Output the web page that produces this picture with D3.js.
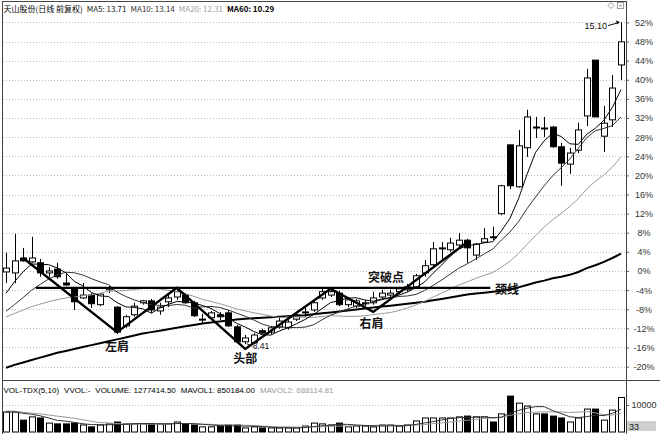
<!DOCTYPE html>
<html><head><meta charset="utf-8">
<script src="https://cdn.jsdelivr.net/npm/d3@7"></script>
<style>body{margin:0;background:#fff}svg{display:block}</style>
</head><body>
<svg id="c" width="660" height="434"></svg>
<script>
// ---------- DATA ----------
const days = d3.range(1, 74);
const open = [9.91,9.89,10.20,10.12,10.10,9.89,9.97,9.68,9.58,9.37,
  9.43,9.23,9.54,9.18,8.79,9.02,9.27,9.31,9.10,9.29,
  9.39,9.43,9.27,8.91,8.96,9.02,9.06,8.77,8.46,8.44,
  8.69,8.66,8.77,8.75,8.93,9.06,9.12,9.37,9.43,9.47,
  9.23,9.20,9.25,9.27,9.39,9.43,9.50,9.54,9.60,9.89,
  10.06,10.39,10.37,10.47,10.57,10.26,10.53,10.64,11.12,12.55,
  11.68,12.49,12.90,12.90,12.92,12.51,12.15,12.44,13.15,14.31,
  12.73,13.07,14.21];
const high = [10.31,10.70,10.41,10.64,10.18,10.01,10.10,9.89,9.60,9.68,
  9.47,9.47,9.64,9.20,9.02,9.27,9.33,9.35,9.27,9.43,
  9.60,9.47,9.31,9.04,9.10,9.08,9.12,8.81,8.60,8.64,
  8.73,8.79,8.96,8.91,9.08,9.16,9.33,9.56,9.58,9.52,
  9.37,9.35,9.33,9.50,9.54,9.54,9.60,9.66,9.87,10.16,
  10.53,10.53,10.62,10.72,10.60,10.51,10.82,10.85,11.72,12.55,
  12.86,13.28,13.13,13.13,12.94,12.59,12.49,13.01,14.13,14.31,
  13.36,14.00,15.10];
const low = [9.68,9.68,10.12,10.10,9.81,9.81,9.77,9.62,9.12,9.35,
  9.16,9.20,9.47,8.62,8.75,8.98,9.23,9.06,9.02,9.18,
  9.33,9.25,8.98,8.83,8.91,8.91,8.77,8.43,8.41,8.42,
  8.62,8.62,8.73,8.71,8.89,8.98,9.08,9.33,9.39,9.20,
  9.18,9.16,9.20,9.23,9.35,9.39,9.45,9.50,9.56,9.81,
  10.01,10.16,10.33,10.43,10.10,10.16,10.51,10.57,11.09,11.63,
  11.66,12.30,12.69,12.71,12.49,11.70,11.95,12.38,12.94,13.13,
  12.40,12.92,13.90];
const close = [9.99,10.14,10.14,10.20,9.89,9.93,9.81,9.64,9.29,9.43,
  9.25,9.45,9.58,8.66,8.98,9.20,9.31,9.12,9.18,9.37,
  9.50,9.27,9.00,8.93,9.06,8.98,8.79,8.46,8.54,8.60,
  8.64,8.75,8.89,8.87,9.02,9.08,9.27,9.50,9.50,9.23,
  9.33,9.31,9.27,9.37,9.47,9.47,9.56,9.60,9.83,10.04,
  10.39,10.41,10.51,10.57,10.41,10.49,10.60,10.62,11.70,11.70,
  12.53,13.13,12.92,12.88,12.51,12.17,12.38,12.86,13.94,13.13,
  13.00,13.73,14.69];
// volume in lots (100 shares)
const volume = [7400,7400,4400,5600,5200,3300,3000,3000,3300,2600,
  1900,2600,3000,3700,3000,3000,3000,3000,3000,3000,
  3700,3000,2600,1900,1900,2200,2600,2600,1500,1900,
  1500,1500,1500,1500,1500,2200,3300,3000,2600,3300,
  1900,2200,2200,1900,2600,2600,2200,2600,4100,5200,
  5200,5200,5200,5600,5900,5600,5600,3700,6700,13300,
  10700,9600,6700,6700,5900,5200,3700,5200,8500,8500,
  4400,8100,12774];
// closes / volumes just before the visible window (estimated from where the MA lines start)
const priorCloses = [8.70,8.75,8.80,8.85,8.90,8.95,8.95,8.90,8.90,8.90,
  8.75,8.70,8.65,8.70,8.80,8.95,9.10,9.40,9.90];
const priorVolumes = [8000,8500,9000,8000,7500,7000,7000,7500,8000];
// MA60
const ma60 = [7.92,7.98,8.03,8.08,8.13,8.18,8.23,8.27,8.31,8.35,
  8.39,8.43,8.47,8.51,8.55,8.59,8.63,8.66,8.69,8.72,
  8.75,8.78,8.81,8.84,8.86,8.88,8.90,8.92,8.94,8.95,
  8.96,8.97,8.98,8.99,9.00,9.01,9.03,9.05,9.07,9.09,
  9.11,9.13,9.15,9.17,9.19,9.21,9.23,9.25,9.27,9.29,
  9.32,9.35,9.38,9.41,9.44,9.46,9.48,9.50,9.52,9.55,
  9.59,9.64,9.69,9.73,9.78,9.81,9.85,9.91,9.99,10.05,
  10.12,10.20,10.29];
const basePrice = 9.93;
const pctTicks = [52,48,44,40,36,32,28,24,20,16,12,8,4,0,-4,-8,-12,-16,-20];
const volTicks = [10000];
// pattern annotation: zigzag vertices [day, price], neckline
const zigzag = [[3,10.20],[14,8.66],[21,9.58],[29,8.31],[39,9.56],[44,9.08],[55,10.53]];
const neckPrice = 9.58, neckFrom = 4.5, neckTo = 57.7;
const notes = [["左肩",14,8.39],["头部",29,8.13],["右肩",43.8,8.87],["突破点",45.5,9.81],["颈线",59.65,9.56]];
// [text, colour, weight]
const headerParts = [["天山股份(日线 前复权)","#000",400],["MA5: 13.71","#222",400],["MA10: 13.14","#333",400],["MA20: 12.31","#a0a0a0",400],["MA60: 10.29","#000",700]];
const volHeader = [["VOL-TDX(5,10)","#000"],["VVOL:-","#000"],["VOLUME: 1277414.50","#000"],["MAVOL1: 850184.00","#000"],["MAVOL2: 688114.81","#999"]];

// ---------- SCALES ----------
const svg = d3.select('#c');
const n = days.length;
const x = d3.scaleLinear().domain([1,73]).range([6,621]);
const y = d3.scaleLinear().domain([basePrice*0.8, basePrice*1.52]).range([366.6, 22.4]);
const pctScale = d3.scaleLinear().domain([-20,52]).range([366.6,22.4]);
const yv = d3.scaleLinear().domain([0,10000]).range([432,405]);
const cx = d => Math.round(x(d)) + 0.5;
const font = "'Liberation Sans', Arial, sans-serif";
const cjk = "'Noto Sans CJK SC', sans-serif";

// ---------- GRID ----------
svg.append('g').selectAll('line').data(pctTicks).join('line')
  .attr('x1',3).attr('x2',626)
  .attr('y1',d=>Math.round(pctScale(d))+0.5).attr('y2',d=>Math.round(pctScale(d))+0.5)
  .attr('stroke','#bcbcbc').attr('stroke-dasharray','1,2');
svg.append('g').selectAll('line').data(volTicks).join('line')
  .attr('x1',3).attr('x2',626)
  .attr('y1',d=>Math.round(yv(d))+0.5).attr('y2',d=>Math.round(yv(d))+0.5)
  .attr('stroke','#bcbcbc').attr('stroke-dasharray','1,2');

// ---------- AXES ----------
const ax = svg.append('g').attr('transform','translate(626,0)')
  .call(d3.axisRight(pctScale).tickValues(pctTicks).tickFormat(d=>d+'%').tickSize(3));
const vax = svg.append('g').attr('transform','translate(626,0)')
  .call(d3.axisRight(yv).tickValues(volTicks).tickFormat(d=>d).tickSize(3));
[ax,vax].forEach(g=>{
  g.select('.domain').remove();
  g.selectAll('line').attr('stroke','#666');
  g.selectAll('text').attr('x',18).attr('text-anchor','middle')
    .style('font-family',font).style('font-size','9px').attr('fill','#333');
});

// ---------- FRAME ----------
const fr = svg.append('g').attr('stroke','#444').attr('fill','none');
fr.append('line').attr('x1',2.5).attr('x2',2.5).attr('y1',1).attr('y2',434);
fr.append('line').attr('x1',2).attr('x2',626.5).attr('y1',1.5).attr('y2',1.5);
fr.append('line').attr('x1',626.5).attr('x2',626.5).attr('y1',1).attr('y2',434);
fr.append('line').attr('x1',2).attr('x2',660).attr('y1',380.5).attr('y2',380.5);
// top-right icons
svg.append('path').attr('d','M611,2.5 L614,5.5 L611,8.5 L608,5.5 Z').attr('fill','none').attr('stroke','#999');
svg.append('rect').attr('x',617.5).attr('y',2.5).attr('width',6).attr('height',6).attr('fill','none').attr('stroke','#999');
svg.append('rect').attr('x',619.5).attr('y',4.5).attr('width',2).attr('height',2).attr('fill','#999');

// ---------- HEADERS (laid out one after another at natural width) ----------
let cur = 3.5;
headerParts.forEach(([t,c,w])=>{
  const el = svg.append('text').attr('x',cur).attr('y',12).text(t)
    .attr('fill',c).style('font-family', cjk+','+font)
    .style('font-size','8px').style('font-weight',w);
  cur += el.node().getComputedTextLength() + 4;
});
cur = 3.5;
volHeader.forEach(([t,c])=>{
  const el = svg.append('text').attr('x',cur).attr('y',393).text(t).attr('fill',c)
    .style('font-family',font).style('font-size','8px');
  cur += el.node().getComputedTextLength() + 5;
});

// ---------- MOVING AVERAGES ----------
const allClose = priorCloses.concat(close);
const off = priorCloses.length;
const ma = k => d3.range(n).map(i => d3.mean(allClose.slice(off+i-k+1, off+i+1)));
const ma5 = ma(5), ma10 = ma(10), ma20 = ma(20);
const allVol = priorVolumes.concat(volume);
const voff = priorVolumes.length;
const mav = k => d3.range(n).map(i => d3.mean(allVol.slice(voff+i-k+1, voff+i+1)));
const mavol1 = mav(5), mavol2 = mav(10);

// ---------- CANDLES ----------
const cg = svg.append('g');
cg.selectAll('line').data(d3.range(n)).join('line')
  .attr('x1',i=>cx(days[i])).attr('x2',i=>cx(days[i]))
  .attr('y1',i=>y(high[i])).attr('y2',i=>y(low[i]))
  .attr('stroke','#000');
cg.selectAll('rect').data(d3.range(n)).join('rect')
  .attr('x',i=>cx(days[i])-3).attr('width',6)
  .attr('y',i=>y(Math.max(open[i],close[i])))
  .attr('height',i=>Math.max(1,y(Math.min(open[i],close[i]))-y(Math.max(open[i],close[i]))))
  .attr('fill',i=>close[i]>=open[i]?'#fff':'#000')
  .attr('stroke','#000').attr('stroke-width',1);

// MA lines
const line = d3.line().x((d,i)=>x(days[i])).y(d=>y(d));
[[ma60,'#000',2],[ma20,'#9a9a9a',1],[ma10,'#333',1],[ma5,'#000',1]].forEach(([arr,c,w])=>{
  svg.append('path').attr('d',line(arr)).attr('fill','none').attr('stroke',c).attr('stroke-width',w);
});

// ---------- VOLUME ----------
const vg = svg.append('g');
vg.selectAll('rect').data(d3.range(n)).join('rect')
  .attr('x',i=>cx(days[i])-3).attr('width',6)
  .attr('y',i=>yv(volume[i])).attr('height',i=>yv(0)-yv(volume[i]))
  .attr('fill',i=>close[i]>=open[i]?'#fff':'#000').attr('stroke','#000');
const vline = d3.line().x((d,i)=>x(days[i])).y(d=>yv(d));
svg.append('path').attr('d',vline(mavol2)).attr('fill','none').attr('stroke','#999');
svg.append('path').attr('d',vline(mavol1)).attr('fill','none').attr('stroke','#333');
// readout box
svg.append('rect').attr('x',627).attr('y',421).attr('width',29).attr('height',10).attr('fill','#cfcfcf');
svg.append('text').attr('x',629).attr('y',429.5).text('33').attr('fill','#222')
  .style('font-family',font).style('font-size','9px');

// ---------- PATTERN ----------
svg.append('line').attr('x1',x(neckFrom)).attr('x2',x(neckTo))
  .attr('y1',y(neckPrice)).attr('y2',y(neckPrice)).attr('stroke','#000').attr('stroke-width',2.2);
svg.append('path').attr('d',d3.line().x(d=>x(d[0])).y(d=>y(d[1]))(zigzag))
  .attr('fill','none').attr('stroke','#000').attr('stroke-width',2.4).attr('stroke-linejoin','round');
notes.forEach(([t,d,p])=>{
  svg.append('text').attr('x',x(d)).attr('y',y(p)).text(t)
    .attr('text-anchor','middle').attr('dominant-baseline','central')
    .style('font-family',cjk).style('font-size','12px').style('font-weight',700).attr('fill','#111');
});

// ---------- HIGH / LOW MARKS ----------
const iHi = d3.maxIndex(high), iLo = d3.minIndex(low);
const hx = x(days[iHi]), hy = y(high[iHi]);
svg.append('text').attr('x',hx-14).attr('y',hy+4).attr('text-anchor','end').attr('dominant-baseline','central')
  .text(high[iHi].toFixed(2)).style('font-family',font).style('font-size','9px').attr('fill','#111');
svg.append('line').attr('x1',hx-13).attr('y1',hy+3.5).attr('x2',hx-2).attr('y2',hy+0.5).attr('stroke','#111');
svg.append('path').attr('d',`M${hx-1},${hy} l-4,-1.5 l0.8,3.8 Z`).attr('fill','#111');
const lx = x(days[iLo]), ly = y(low[iLo]);
svg.append('line').attr('x1',lx+1.5).attr('y1',ly-0.5).attr('x2',lx+6.5).attr('y2',ly+2).attr('stroke','#111');
svg.append('text').attr('x',lx+7.5).attr('y',ly+2).attr('dominant-baseline','central')
  .text(low[iLo].toFixed(2)).style('font-family',font).style('font-size','8.5px').attr('fill','#111');
</script>
</body></html>
